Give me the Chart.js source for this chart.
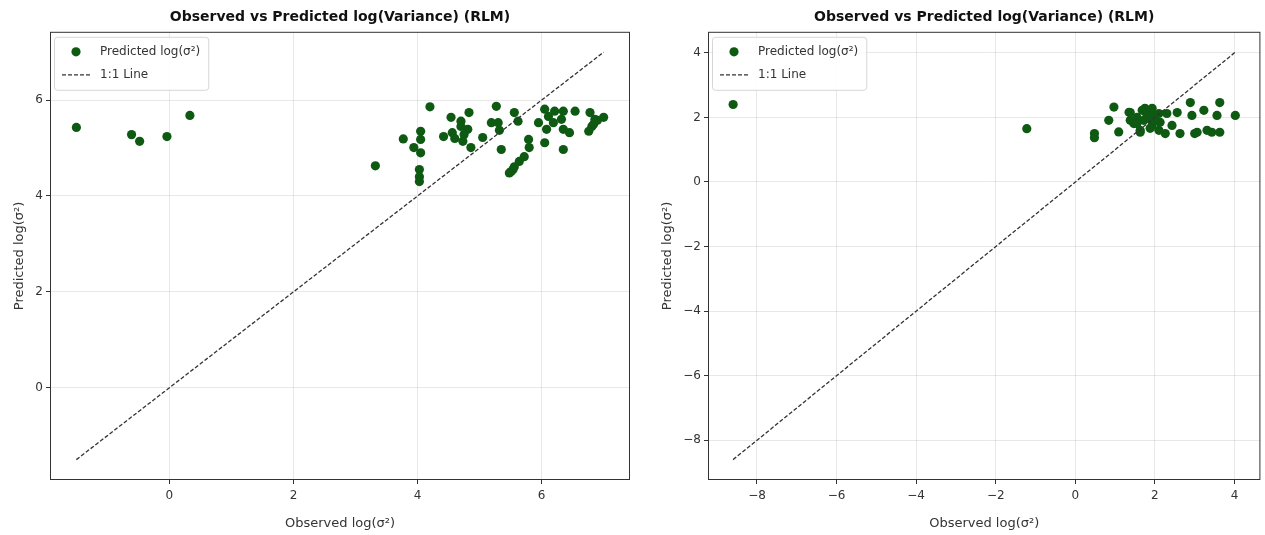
<!DOCTYPE html>
<html>
<head>
<meta charset="utf-8">
<script src="https://cdn.jsdelivr.net/npm/chart.js@4/dist/chart.umd.min.js"></script>
<style>
html, body { margin: 0; padding: 0; background: #fff; overflow: hidden; }
#c1 { position: absolute; left: 0; top: 0; }
#c2 { position: absolute; left: 640px; top: 0; }
</style>
</head>
<body>
<canvas id="c1" width="640" height="535"></canvas>
<canvas id="c2" width="625" height="535"></canvas>
<script>
// left panel
const obsLeft = [-1.50, -0.61, -0.48, -0.04, 0.33, 3.32, 3.77, 3.94, 4.05, 4.05, 4.05, 4.03, 4.03, 4.03,
    4.20, 4.42, 4.54, 4.56, 4.70, 4.70, 4.73, 4.81, 4.83, 4.86, 5.05, 5.19, 5.27, 5.30, 5.32, 5.35,
    5.51, 5.56, 5.64, 5.72, 5.56, 5.62, 5.79, 5.80, 5.95, 6.05, 6.11, 6.21, 6.35, 6.32, 6.08, 6.19,
    6.35, 6.45, 6.05, 6.35, 6.54, 6.78, 6.86, 7.00, 6.81, 6.76, 5.54, 5.48, 6.84, 6.90, 4.60, 4.75];
const predLeft = [5.43, 5.28, 5.14, 5.24, 5.68, 4.63, 5.19, 5.01, 5.35, 5.18, 4.90, 4.55, 4.40, 4.30,
    5.86, 5.24, 5.64, 5.32, 5.45, 5.56, 5.14, 5.39, 5.74, 5.01, 5.22, 5.53, 5.87, 5.53, 5.37, 4.97,
    4.51, 4.61, 4.72, 4.82, 5.74, 5.56, 5.18, 5.01, 5.53, 5.81, 5.66, 5.77, 5.77, 5.60, 5.39, 5.53,
    5.39, 5.32, 5.11, 4.97, 5.77, 5.74, 5.60, 5.64, 5.45, 5.35, 4.55, 4.48, 5.50, 5.58, 5.20, 5.28];
const lineLeft = [-1.5, 7.0];
const xTicksLeft = [0, 2, 4, 6];
const yTicksLeft = [0, 2, 4, 6];

// right panel
const obsRight = [-8.60, -1.22, 0.48, 0.48, 0.84, 0.97, 1.09, 1.35, 1.38, 1.47, 1.55, 1.68, 1.72, 1.63,
    1.88, 1.85, 1.93, 2.10, 2.13, 2.10, 2.30, 2.43, 2.26, 2.56, 2.63, 2.89, 2.93, 3.00, 3.06, 3.23,
    3.31, 3.43, 3.56, 3.63, 3.63, 4.02, 1.38, 1.75, 1.93, 1.98, 1.88, 1.55, 1.63, 1.95, 2.00, 1.80];
const predRight = [2.40, 1.65, 1.37, 1.50, 1.91, 2.32, 1.55, 2.16, 1.91, 1.81, 2.00, 2.22, 1.91, 1.60,
    2.22, 1.97, 1.75, 2.12, 1.85, 1.60, 2.12, 1.75, 1.50, 2.15, 1.50, 2.46, 2.06, 1.50, 1.54, 2.22,
    1.60, 1.54, 2.06, 2.46, 1.54, 2.06, 2.15, 2.28, 2.28, 2.00, 1.66, 1.81, 1.54, 2.05, 1.90, 2.05];
const lineRight = [-8.6, 4.02];
const xTicksRight = [-8, -6, -4, -2, 0, 2, 4];
const yTicksRight = [-8, -6, -4, -2, 0, 2, 4];

const titleText = 'Observed vs Predicted log(Variance) (RLM)';
const pointColor = '#0e5a13';
const textColor = '#333';

Chart.defaults.font.family = "'DejaVu Sans', sans-serif";
Chart.defaults.color = textColor;

// matplotlib style box + legend inside the axes
const axesBox = {
    id: 'axesBox',
    afterDraw(chart) {
        const ctx = chart.ctx;
        const a = chart.chartArea;
        ctx.save();
        ctx.strokeStyle = '#333';
        ctx.lineWidth = 1;
        ctx.strokeRect(a.left + 0.5, a.top + 0.5, a.right - a.left - 1, a.bottom - a.top - 1);

        const ds = chart.data.datasets;
        ctx.font = "12px 'DejaVu Sans'";
        const w = 46 + Math.max(ctx.measureText(ds[0].label).width, ctx.measureText(ds[1].label).width) + 8;
        const bx = a.left + 4, by = a.top + 5, bh = 53;
        ctx.fillStyle = 'rgba(255,255,255,0.85)';
        ctx.strokeStyle = '#d6d6d6';
        ctx.beginPath();
        ctx.roundRect(bx + 0.5, by + 0.5, w, bh, 3);
        ctx.fill();
        ctx.stroke();

        ctx.fillStyle = pointColor;
        ctx.beginPath();
        ctx.arc(bx + 22, by + 15, 4.6, 0, Math.PI * 2);
        ctx.fill();

        ctx.strokeStyle = '#333';
        ctx.lineWidth = 1.3;
        ctx.setLineDash([4, 2]);
        ctx.beginPath();
        ctx.moveTo(bx + 8, by + 38);
        ctx.lineTo(bx + 36, by + 38);
        ctx.stroke();
        ctx.setLineDash([]);

        ctx.fillStyle = textColor;
        ctx.textBaseline = 'middle';
        ctx.textAlign = 'left';
        ctx.fillText(ds[0].label, bx + 46, by + 15);
        ctx.fillText(ds[1].label, bx + 46, by + 38);
        ctx.restore();
    }
};

function minus(v) {
    return String(v).replace('-', '\u2212');
}

function makeChart(id, obs, pred, line, xTicks, yTicks, range, pad, yWidth) {
    const points = obs.map((v, i) => ({ x: v, y: pred[i] }));
    const lineData = line.map(v => ({ x: v, y: v }));
    const margin = (range[1] - range[0]) * 0.05;
    const lo = range[0] - margin, hi = range[1] + margin;
    const grid = { color: 'rgba(0,0,0,0.09)', tickColor: '#333', tickLength: 4, drawTicks: true };

    return new Chart(id, {
        type: 'scatter',
        data: {
            datasets: [{
                label: 'Predicted log(σ²)',
                data: points,
                backgroundColor: pointColor,
                borderColor: pointColor,
                borderWidth: 0,
                pointRadius: 4.6,
                order: 2
            }, {
                type: 'line',
                label: '1:1 Line',
                data: lineData,
                borderColor: '#333',
                borderWidth: 1.3,
                borderDash: [4, 2],
                pointRadius: 0,
                fill: false,
                order: 1
            }]
        },
        options: {
            responsive: false,
            animation: false,
            layout: { padding: { left: pad[0], right: pad[1], top: 0, bottom: 0 } },
            plugins: {
                legend: { display: false },
                tooltip: { enabled: false },
                title: {
                    display: true,
                    text: titleText,
                    fullSize: false,
                    color: '#111',
                    font: { size: 14, weight: 'bold' },
                    padding: { top: 9, bottom: 6 }
                }
            },
            scales: {
                x: {
                    type: 'linear',
                    min: lo,
                    max: hi,
                    afterBuildTicks: a => { a.ticks = xTicks.map(v => ({ value: v })); },
                    afterFit: s => { s.height = 55; },
                    grid: grid,
                    border: { display: false },
                    ticks: { color: textColor, font: { size: 12 }, padding: 5, maxRotation: 0, callback: minus },
                    title: { display: true, text: 'Observed log(σ²)', color: textColor, font: { size: 13 }, padding: { top: 4, bottom: 4 } }
                },
                y: {
                    type: 'linear',
                    min: lo,
                    max: hi,
                    afterBuildTicks: a => { a.ticks = yTicks.map(v => ({ value: v })); },
                    afterFit: s => { s.width = yWidth; },
                    grid: grid,
                    border: { display: false },
                    ticks: { color: textColor, font: { size: 12 }, padding: 3, callback: minus },
                    title: { display: true, text: 'Predicted log(σ²)', color: textColor, font: { size: 13 }, padding: { top: 4, bottom: 4 } }
                }
            }
        },
        plugins: [axesBox]
    });
}

const chartLeft = makeChart('c1', obsLeft, predLeft, lineLeft, xTicksLeft, yTicksLeft, lineLeft, [8, 10], 42);
const chartRight = makeChart('c2', obsRight, predRight, lineRight, xTicksRight, yTicksRight, lineRight, [16, 2], 52);
</script>
</body>
</html>
